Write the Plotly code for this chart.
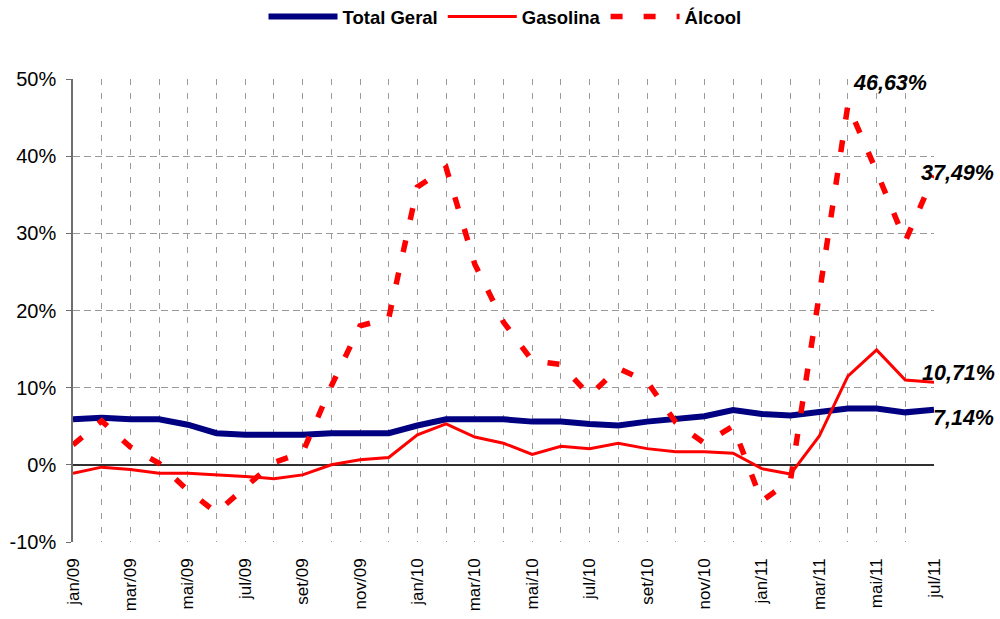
import plotly.graph_objects as go

months = ['jan/09','fev/09','mar/09','abr/09','mai/09','jun/09','jul/09','ago/09','set/09','out/09',
          'nov/09','dez/09','jan/10','fev/10','mar/10','abr/10','mai/10','jun/10','jul/10','ago/10',
          'set/10','out/10','nov/10','dez/10','jan/11','fev/11','mar/11','abr/11','mai/11','jun/11','jul/11']

total_geral = [5.9, 6.1, 5.9, 5.9, 5.2, 4.1, 3.9, 3.9, 3.9, 4.1,
               4.1, 4.1, 5.1, 5.9, 5.9, 5.9, 5.6, 5.6, 5.3, 5.1,
               5.6, 5.9, 6.3, 7.1, 6.6, 6.4, 6.9, 7.3, 7.3, 6.8, 7.14]
gasolina = [-1.1, -0.3, -0.6, -1.1, -1.1, -1.3, -1.5, -1.8, -1.3, 0.0,
            0.65, 0.95, 3.9, 5.3, 3.6, 2.8, 1.35, 2.4, 2.1, 2.8,
            2.1, 1.7, 1.7, 1.5, -0.5, -1.2, 3.7, 11.5, 14.9, 11.0, 10.71]
alcool = [2.6, 5.7, 2.3, 0.2, -3.3, -6.2, -2.9, 0.3, 1.6, 10.2,
          18.0, 19.0, 36.0, 38.5, 26.0, 18.5, 13.5, 13.0, 9.0, 12.5,
          10.8, 5.5, 2.8, 5.0, -4.7, -2.0, 22.0, 46.63, 38.0, 29.0, 37.49]

y_ticks = [-10, 0, 10, 20, 30, 40, 50]
y_tick_labels = [f"{v}%" for v in y_ticks]
x_idx = list(range(len(months)))
x_tick_labels = [m if i % 2 == 0 else "" for i, m in enumerate(months)]

FONT = "Liberation Sans, Arial, sans-serif"

def pct(v):
    return f"{v:.2f}%".replace(".", ",")

fig = go.Figure()
fig.add_trace(go.Scatter(x=x_idx, y=total_geral, name="Total Geral", mode="lines",
                         line=dict(color="#000080", width=6)))
fig.add_trace(go.Scatter(x=x_idx, y=gasolina, name="Gasolina", mode="lines",
                         line=dict(color="#FF0000", width=3)))
fig.add_trace(go.Scatter(x=x_idx, y=alcool, name="Álcool", mode="lines",
                         line=dict(color="#FF0000", width=5.5, dash="12px,21px")))

peak_i = alcool.index(max(alcool))
last = len(months) - 1
ann_font = dict(family=FONT, size=21.5, color="black", weight="bold", style="italic")
annotations = [
    dict(x=peak_i, y=alcool[peak_i], text=pct(alcool[peak_i]), xanchor="left", yanchor="middle",
         xshift=3, yshift=22, showarrow=False, font=ann_font),
    dict(x=last, y=alcool[last], text=pct(alcool[last]), xanchor="left", yanchor="middle",
         xshift=-15, yshift=3, showarrow=False, font=ann_font),
    dict(x=last, y=gasolina[last], text=pct(gasolina[last]), xanchor="left", yanchor="middle",
         xshift=-14, yshift=9, showarrow=False, font=ann_font),
    dict(x=last, y=total_geral[last], text=pct(total_geral[last]), xanchor="left", yanchor="middle",
         xshift=-3, yshift=-8, showarrow=False, font=ann_font),
]

zero_pos = (0 - y_ticks[0]) / (y_ticks[-1] - y_ticks[0])

fig.update_layout(
    width=1000, height=619,
    margin=dict(l=73, r=66, t=79, b=77, autoexpand=False),
    paper_bgcolor="white", plot_bgcolor="white",
    font=dict(family=FONT, color="black"),
    showlegend=True,
    legend=dict(orientation="h", x=0.505, xanchor="center", xref="container",
                y=1 - 17 / 619, yanchor="middle", yref="container",
                font=dict(family=FONT, size=18.5, weight="bold", color="black"),
                itemwidth=69, bgcolor="rgba(0,0,0,0)"),
    annotations=annotations,
    xaxis=dict(range=[0, last], tickvals=x_idx, ticktext=x_tick_labels, tickangle=-90,
               showgrid=True, gridcolor="#9a9a9a", gridwidth=1, griddash="6px,8px",
               zeroline=False, showline=False, ticks="", ticklabelstandoff=12, automargin=False,
               tickfont=dict(family=FONT, size=17, color="black")),
    xaxis2=dict(overlaying="x", anchor="free", position=zero_pos, range=[0, last],
                tickvals=x_idx, showticklabels=False, ticks="outside", ticklen=4, automargin=False,
                tickcolor="#303030", tickwidth=1, showgrid=False, zeroline=False, showline=False),
    xaxis3=dict(overlaying="x", anchor="free", position=zero_pos, range=[0, last],
                tickvals=x_idx, showticklabels=False, ticks="inside", ticklen=4, automargin=False,
                tickcolor="#303030", tickwidth=1, showgrid=False, zeroline=False, showline=False),
    yaxis=dict(range=[y_ticks[0], y_ticks[-1]], tickvals=y_ticks, ticktext=y_tick_labels,
               showgrid=True, gridcolor="#9a9a9a", gridwidth=1, griddash="7px,4px",
               zeroline=True, zerolinecolor="#303030", zerolinewidth=1.5, automargin=False,
               showline=True, linecolor="#6e6e6e", linewidth=1.5,
               ticks="outside", ticklen=5, tickcolor="#6e6e6e", ticklabelstandoff=6,
               tickfont=dict(family=FONT, size=20, color="black")),
)

fig.write_html("out.html", config={"displayModeBar": False},
               post_script="document.body.style.margin='0px';document.body.style.padding='0px';")
